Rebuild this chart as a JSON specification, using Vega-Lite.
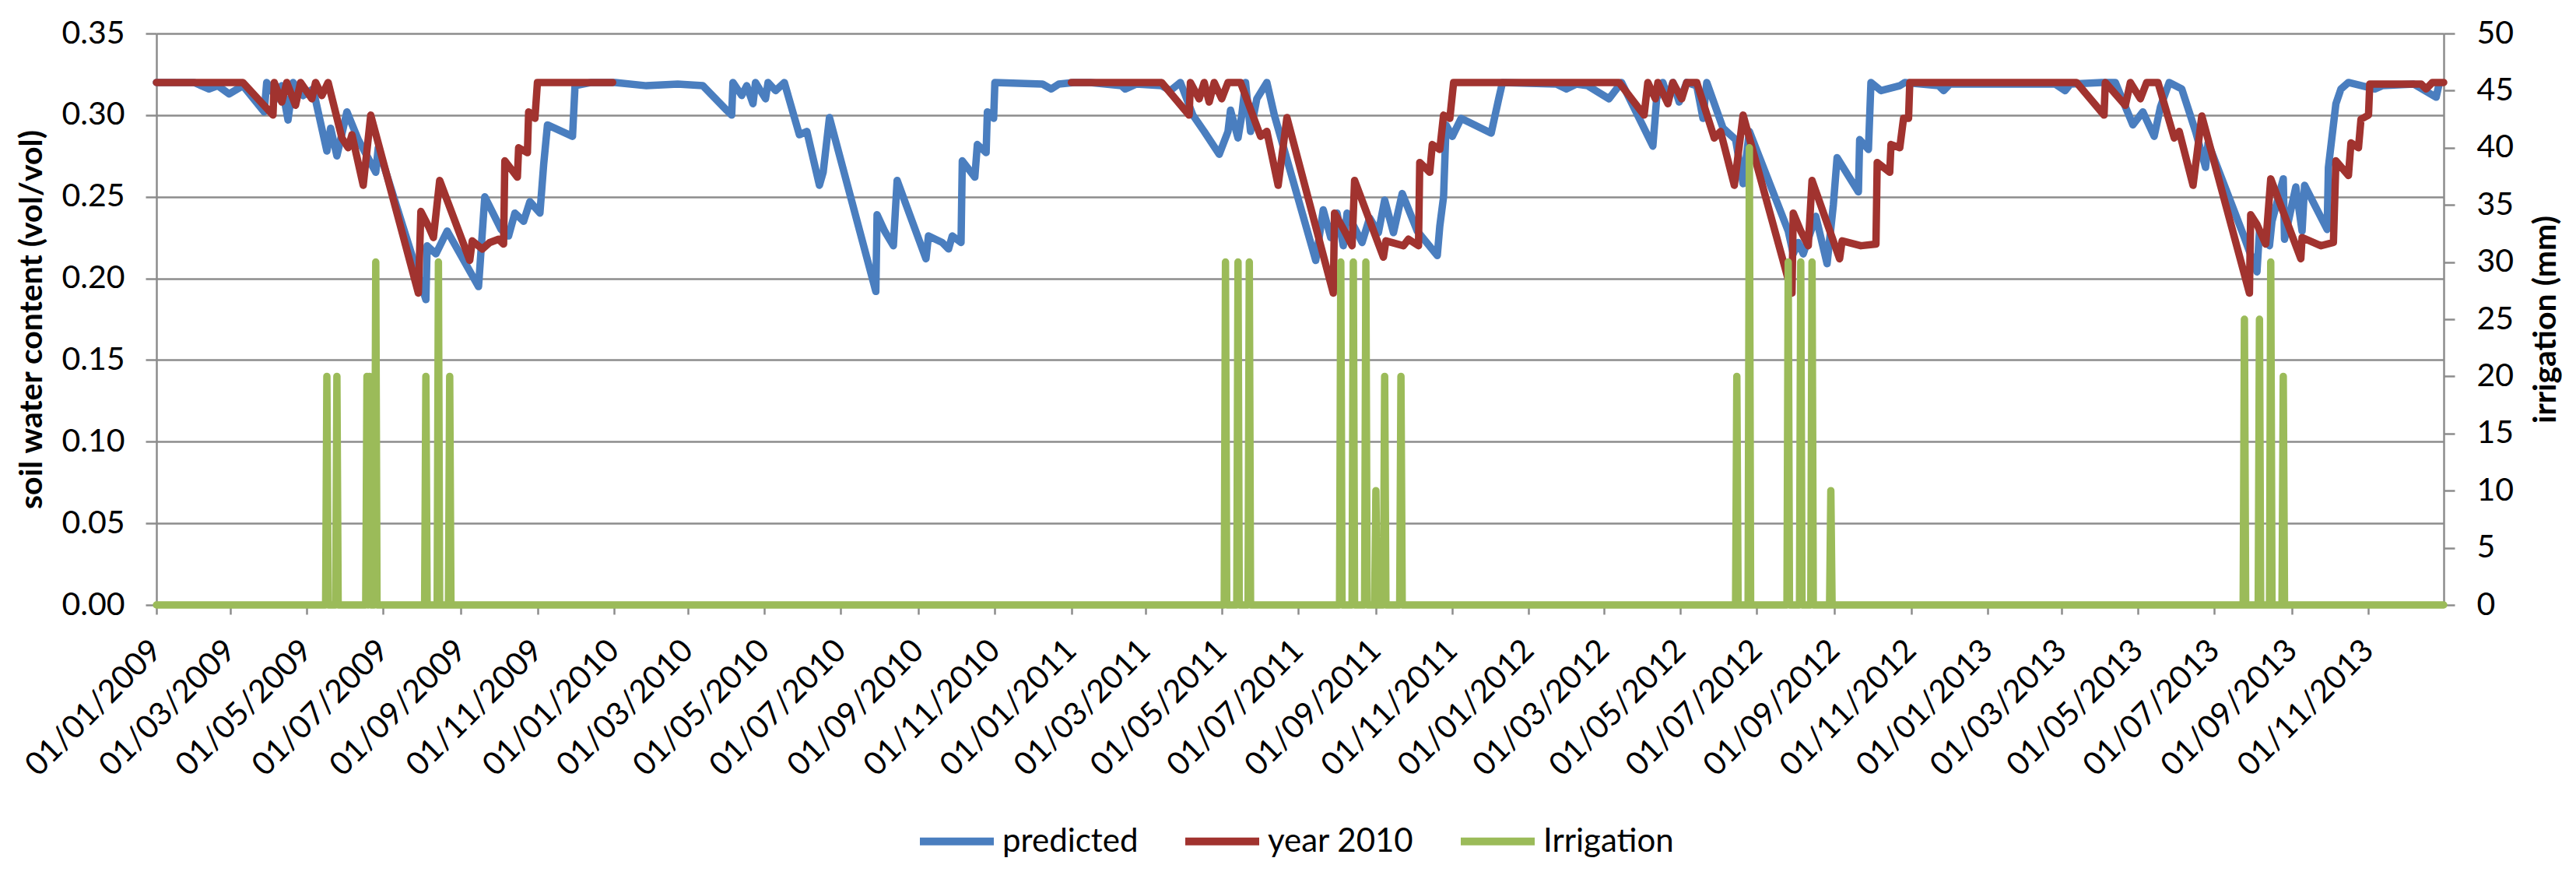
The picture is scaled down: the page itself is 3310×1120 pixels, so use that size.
{
  "$schema": "https://vega.github.io/schema/vega-lite/v6.json",
  "autosize": {"type": "none"},
  "padding": {"left": 201, "top": 43, "right": 170, "bottom": 343},
  "width": 2939,
  "height": 734,
  "background": "white",
  "config": {
    "font": "Lato",
    "view": {"stroke": null},
    "axis": {
      "labelFont": "Lato", "labelFontSize": 41, "labelColor": "#000000",
      "titleFont": "Lato", "titleFontSize": 41, "titleFontWeight": "bold", "titleColor": "#000000",
      "domainColor": "#8c8c8c", "domainWidth": 2.5,
      "tickColor": "#8c8c8c", "tickWidth": 2.5,
      "gridColor": "#8c8c8c", "gridWidth": 2.5
    }
  },
  "datasets": {
    "swc": [
      {"d":"2009-01-01","s":"predicted","v":0.320},
      {"d":"2009-01-31","s":"predicted","v":0.320},
      {"d":"2009-02-12","s":"predicted","v":0.316},
      {"d":"2009-02-19","s":"predicted","v":0.318},
      {"d":"2009-02-28","s":"predicted","v":0.313},
      {"d":"2009-03-11","s":"predicted","v":0.318},
      {"d":"2009-03-28","s":"predicted","v":0.302},
      {"d":"2009-03-30","s":"predicted","v":0.320},
      {"d":"2009-04-07","s":"predicted","v":0.310},
      {"d":"2009-04-11","s":"predicted","v":0.318},
      {"d":"2009-04-16","s":"predicted","v":0.297},
      {"d":"2009-04-20","s":"predicted","v":0.320},
      {"d":"2009-04-28","s":"predicted","v":0.312},
      {"d":"2009-05-06","s":"predicted","v":0.316},
      {"d":"2009-05-17","s":"predicted","v":0.278},
      {"d":"2009-05-20","s":"predicted","v":0.292},
      {"d":"2009-05-25","s":"predicted","v":0.275},
      {"d":"2009-06-02","s":"predicted","v":0.302},
      {"d":"2009-06-11","s":"predicted","v":0.285},
      {"d":"2009-06-25","s":"predicted","v":0.265},
      {"d":"2009-06-27","s":"predicted","v":0.280},
      {"d":"2009-08-04","s":"predicted","v":0.187},
      {"d":"2009-08-05","s":"predicted","v":0.220},
      {"d":"2009-08-12","s":"predicted","v":0.215},
      {"d":"2009-08-21","s":"predicted","v":0.229},
      {"d":"2009-09-15","s":"predicted","v":0.195},
      {"d":"2009-09-20","s":"predicted","v":0.250},
      {"d":"2009-10-03","s":"predicted","v":0.230},
      {"d":"2009-10-09","s":"predicted","v":0.226},
      {"d":"2009-10-14","s":"predicted","v":0.240},
      {"d":"2009-10-21","s":"predicted","v":0.235},
      {"d":"2009-10-26","s":"predicted","v":0.247},
      {"d":"2009-11-03","s":"predicted","v":0.240},
      {"d":"2009-11-06","s":"predicted","v":0.270},
      {"d":"2009-11-09","s":"predicted","v":0.294},
      {"d":"2009-11-29","s":"predicted","v":0.287},
      {"d":"2009-12-01","s":"predicted","v":0.318},
      {"d":"2009-12-14","s":"predicted","v":0.320},
      {"d":"2010-01-02","s":"predicted","v":0.320},
      {"d":"2010-01-27","s":"predicted","v":0.318},
      {"d":"2010-02-21","s":"predicted","v":0.319},
      {"d":"2010-03-13","s":"predicted","v":0.318},
      {"d":"2010-04-01","s":"predicted","v":0.303},
      {"d":"2010-04-05","s":"predicted","v":0.300},
      {"d":"2010-04-06","s":"predicted","v":0.320},
      {"d":"2010-04-13","s":"predicted","v":0.312},
      {"d":"2010-04-17","s":"predicted","v":0.318},
      {"d":"2010-04-22","s":"predicted","v":0.307},
      {"d":"2010-04-24","s":"predicted","v":0.320},
      {"d":"2010-05-02","s":"predicted","v":0.310},
      {"d":"2010-05-04","s":"predicted","v":0.320},
      {"d":"2010-05-10","s":"predicted","v":0.315},
      {"d":"2010-05-17","s":"predicted","v":0.320},
      {"d":"2010-05-29","s":"predicted","v":0.288},
      {"d":"2010-06-04","s":"predicted","v":0.290},
      {"d":"2010-06-14","s":"predicted","v":0.257},
      {"d":"2010-06-17","s":"predicted","v":0.265},
      {"d":"2010-06-22","s":"predicted","v":0.2985},
      {"d":"2010-07-29","s":"predicted","v":0.192},
      {"d":"2010-07-30","s":"predicted","v":0.239},
      {"d":"2010-08-05","s":"predicted","v":0.229},
      {"d":"2010-08-12","s":"predicted","v":0.220},
      {"d":"2010-08-15","s":"predicted","v":0.260},
      {"d":"2010-09-07","s":"predicted","v":0.212},
      {"d":"2010-09-09","s":"predicted","v":0.226},
      {"d":"2010-09-20","s":"predicted","v":0.222},
      {"d":"2010-09-25","s":"predicted","v":0.218},
      {"d":"2010-09-28","s":"predicted","v":0.226},
      {"d":"2010-10-05","s":"predicted","v":0.222},
      {"d":"2010-10-06","s":"predicted","v":0.272},
      {"d":"2010-10-16","s":"predicted","v":0.262},
      {"d":"2010-10-18","s":"predicted","v":0.282},
      {"d":"2010-10-25","s":"predicted","v":0.277},
      {"d":"2010-10-26","s":"predicted","v":0.302},
      {"d":"2010-10-31","s":"predicted","v":0.298},
      {"d":"2010-11-01","s":"predicted","v":0.320},
      {"d":"2010-12-09","s":"predicted","v":0.319},
      {"d":"2010-12-16","s":"predicted","v":0.316},
      {"d":"2010-12-22","s":"predicted","v":0.319},
      {"d":"2011-01-03","s":"predicted","v":0.320},
      {"d":"2011-01-16","s":"predicted","v":0.320},
      {"d":"2011-02-10","s":"predicted","v":0.318},
      {"d":"2011-02-13","s":"predicted","v":0.316},
      {"d":"2011-02-22","s":"predicted","v":0.319},
      {"d":"2011-03-14","s":"predicted","v":0.318},
      {"d":"2011-03-21","s":"predicted","v":0.315},
      {"d":"2011-03-29","s":"predicted","v":0.320},
      {"d":"2011-04-08","s":"predicted","v":0.300},
      {"d":"2011-04-17","s":"predicted","v":0.290},
      {"d":"2011-04-29","s":"predicted","v":0.276},
      {"d":"2011-05-06","s":"predicted","v":0.290},
      {"d":"2011-05-08","s":"predicted","v":0.303},
      {"d":"2011-05-14","s":"predicted","v":0.286},
      {"d":"2011-05-17","s":"predicted","v":0.300},
      {"d":"2011-05-20","s":"predicted","v":0.320},
      {"d":"2011-05-24","s":"predicted","v":0.290},
      {"d":"2011-05-29","s":"predicted","v":0.310},
      {"d":"2011-06-06","s":"predicted","v":0.320},
      {"d":"2011-06-12","s":"predicted","v":0.300},
      {"d":"2011-07-15","s":"predicted","v":0.211},
      {"d":"2011-07-21","s":"predicted","v":0.242},
      {"d":"2011-07-27","s":"predicted","v":0.225},
      {"d":"2011-08-01","s":"predicted","v":0.240},
      {"d":"2011-08-06","s":"predicted","v":0.220},
      {"d":"2011-08-09","s":"predicted","v":0.240},
      {"d":"2011-08-21","s":"predicted","v":0.222},
      {"d":"2011-08-27","s":"predicted","v":0.237},
      {"d":"2011-09-03","s":"predicted","v":0.228},
      {"d":"2011-09-08","s":"predicted","v":0.248},
      {"d":"2011-09-15","s":"predicted","v":0.228},
      {"d":"2011-09-22","s":"predicted","v":0.252},
      {"d":"2011-10-04","s":"predicted","v":0.229},
      {"d":"2011-10-20","s":"predicted","v":0.214},
      {"d":"2011-10-22","s":"predicted","v":0.232},
      {"d":"2011-10-25","s":"predicted","v":0.250},
      {"d":"2011-10-27","s":"predicted","v":0.294},
      {"d":"2011-11-01","s":"predicted","v":0.287},
      {"d":"2011-11-08","s":"predicted","v":0.298},
      {"d":"2011-12-02","s":"predicted","v":0.289},
      {"d":"2011-12-08","s":"predicted","v":0.310},
      {"d":"2011-12-11","s":"predicted","v":0.320},
      {"d":"2012-01-23","s":"predicted","v":0.319},
      {"d":"2012-01-31","s":"predicted","v":0.316},
      {"d":"2012-02-08","s":"predicted","v":0.319},
      {"d":"2012-02-17","s":"predicted","v":0.318},
      {"d":"2012-03-05","s":"predicted","v":0.310},
      {"d":"2012-03-15","s":"predicted","v":0.320},
      {"d":"2012-04-09","s":"predicted","v":0.281},
      {"d":"2012-04-12","s":"predicted","v":0.310},
      {"d":"2012-04-17","s":"predicted","v":0.320},
      {"d":"2012-04-21","s":"predicted","v":0.310},
      {"d":"2012-04-25","s":"predicted","v":0.320},
      {"d":"2012-04-30","s":"predicted","v":0.308},
      {"d":"2012-05-06","s":"predicted","v":0.320},
      {"d":"2012-05-14","s":"predicted","v":0.318},
      {"d":"2012-05-19","s":"predicted","v":0.298},
      {"d":"2012-05-22","s":"predicted","v":0.320},
      {"d":"2012-06-04","s":"predicted","v":0.292},
      {"d":"2012-06-14","s":"predicted","v":0.285},
      {"d":"2012-06-20","s":"predicted","v":0.258},
      {"d":"2012-06-25","s":"predicted","v":0.290},
      {"d":"2012-07-26","s":"predicted","v":0.229},
      {"d":"2012-07-30","s":"predicted","v":0.215},
      {"d":"2012-08-03","s":"predicted","v":0.222},
      {"d":"2012-08-07","s":"predicted","v":0.215},
      {"d":"2012-08-17","s":"predicted","v":0.238},
      {"d":"2012-08-26","s":"predicted","v":0.209},
      {"d":"2012-08-31","s":"predicted","v":0.245},
      {"d":"2012-09-03","s":"predicted","v":0.274},
      {"d":"2012-09-20","s":"predicted","v":0.253},
      {"d":"2012-09-21","s":"predicted","v":0.285},
      {"d":"2012-09-28","s":"predicted","v":0.279},
      {"d":"2012-09-30","s":"predicted","v":0.320},
      {"d":"2012-10-08","s":"predicted","v":0.315},
      {"d":"2012-10-23","s":"predicted","v":0.318},
      {"d":"2012-10-27","s":"predicted","v":0.320},
      {"d":"2012-11-23","s":"predicted","v":0.318},
      {"d":"2012-11-27","s":"predicted","v":0.315},
      {"d":"2012-12-02","s":"predicted","v":0.319},
      {"d":"2013-02-24","s":"predicted","v":0.319},
      {"d":"2013-03-04","s":"predicted","v":0.315},
      {"d":"2013-03-08","s":"predicted","v":0.319},
      {"d":"2013-04-02","s":"predicted","v":0.320},
      {"d":"2013-04-13","s":"predicted","v":0.320},
      {"d":"2013-04-27","s":"predicted","v":0.294},
      {"d":"2013-05-05","s":"predicted","v":0.302},
      {"d":"2013-05-14","s":"predicted","v":0.287},
      {"d":"2013-05-19","s":"predicted","v":0.305},
      {"d":"2013-05-26","s":"predicted","v":0.320},
      {"d":"2013-06-05","s":"predicted","v":0.316},
      {"d":"2013-06-16","s":"predicted","v":0.290},
      {"d":"2013-06-24","s":"predicted","v":0.268},
      {"d":"2013-06-26","s":"predicted","v":0.283},
      {"d":"2013-07-24","s":"predicted","v":0.227},
      {"d":"2013-08-04","s":"predicted","v":0.204},
      {"d":"2013-08-06","s":"predicted","v":0.229},
      {"d":"2013-08-14","s":"predicted","v":0.220},
      {"d":"2013-08-16","s":"predicted","v":0.235},
      {"d":"2013-08-25","s":"predicted","v":0.261},
      {"d":"2013-08-26","s":"predicted","v":0.224},
      {"d":"2013-09-04","s":"predicted","v":0.256},
      {"d":"2013-09-09","s":"predicted","v":0.229},
      {"d":"2013-09-11","s":"predicted","v":0.257},
      {"d":"2013-09-29","s":"predicted","v":0.230},
      {"d":"2013-09-30","s":"predicted","v":0.268},
      {"d":"2013-10-06","s":"predicted","v":0.307},
      {"d":"2013-10-10","s":"predicted","v":0.316},
      {"d":"2013-10-16","s":"predicted","v":0.320},
      {"d":"2013-11-06","s":"predicted","v":0.316},
      {"d":"2013-11-12","s":"predicted","v":0.318},
      {"d":"2013-12-07","s":"predicted","v":0.319},
      {"d":"2013-12-25","s":"predicted","v":0.311},
      {"d":"2013-12-27","s":"predicted","v":0.318},

      {"d":"2009-01-01","s":"year 2010","v":0.320},
      {"d":"2009-03-11","s":"year 2010","v":0.320},
      {"d":"2009-04-04","s":"year 2010","v":0.300},
      {"d":"2009-04-05","s":"year 2010","v":0.320},
      {"d":"2009-04-11","s":"year 2010","v":0.308},
      {"d":"2009-04-15","s":"year 2010","v":0.320},
      {"d":"2009-04-22","s":"year 2010","v":0.306},
      {"d":"2009-04-26","s":"year 2010","v":0.320},
      {"d":"2009-05-05","s":"year 2010","v":0.310},
      {"d":"2009-05-08","s":"year 2010","v":0.320},
      {"d":"2009-05-13","s":"year 2010","v":0.312},
      {"d":"2009-05-18","s":"year 2010","v":0.320},
      {"d":"2009-05-29","s":"year 2010","v":0.286},
      {"d":"2009-06-03","s":"year 2010","v":0.280},
      {"d":"2009-06-06","s":"year 2010","v":0.288},
      {"d":"2009-06-15","s":"year 2010","v":0.257},
      {"d":"2009-06-21","s":"year 2010","v":0.300},
      {"d":"2009-07-29","s":"year 2010","v":0.191},
      {"d":"2009-07-31","s":"year 2010","v":0.241},
      {"d":"2009-08-06","s":"year 2010","v":0.232},
      {"d":"2009-08-10","s":"year 2010","v":0.225},
      {"d":"2009-08-15","s":"year 2010","v":0.260},
      {"d":"2009-09-08","s":"year 2010","v":0.211},
      {"d":"2009-09-10","s":"year 2010","v":0.223},
      {"d":"2009-09-18","s":"year 2010","v":0.218},
      {"d":"2009-09-24","s":"year 2010","v":0.222},
      {"d":"2009-10-01","s":"year 2010","v":0.224},
      {"d":"2009-10-05","s":"year 2010","v":0.221},
      {"d":"2009-10-06","s":"year 2010","v":0.272},
      {"d":"2009-10-16","s":"year 2010","v":0.262},
      {"d":"2009-10-17","s":"year 2010","v":0.280},
      {"d":"2009-10-24","s":"year 2010","v":0.277},
      {"d":"2009-10-25","s":"year 2010","v":0.302},
      {"d":"2009-10-30","s":"year 2010","v":0.298},
      {"d":"2009-11-01","s":"year 2010","v":0.320},
      {"d":"2009-12-31","s":"year 2010","v":0.320},
      {"d":"2010-06-01","s":"year 2010","v":null},
      {"d":"2011-01-01","s":"year 2010","v":0.320},
      {"d":"2011-03-14","s":"year 2010","v":0.320},
      {"d":"2011-04-05","s":"year 2010","v":0.300},
      {"d":"2011-04-06","s":"year 2010","v":0.320},
      {"d":"2011-04-13","s":"year 2010","v":0.310},
      {"d":"2011-04-17","s":"year 2010","v":0.320},
      {"d":"2011-04-21","s":"year 2010","v":0.308},
      {"d":"2011-04-25","s":"year 2010","v":0.320},
      {"d":"2011-05-01","s":"year 2010","v":0.310},
      {"d":"2011-05-06","s":"year 2010","v":0.320},
      {"d":"2011-05-16","s":"year 2010","v":0.320},
      {"d":"2011-06-01","s":"year 2010","v":0.287},
      {"d":"2011-06-06","s":"year 2010","v":0.290},
      {"d":"2011-06-15","s":"year 2010","v":0.257},
      {"d":"2011-06-22","s":"year 2010","v":0.2985},
      {"d":"2011-07-29","s":"year 2010","v":0.191},
      {"d":"2011-07-30","s":"year 2010","v":0.240},
      {"d":"2011-08-07","s":"year 2010","v":0.229},
      {"d":"2011-08-13","s":"year 2010","v":0.220},
      {"d":"2011-08-15","s":"year 2010","v":0.260},
      {"d":"2011-09-07","s":"year 2010","v":0.213},
      {"d":"2011-09-09","s":"year 2010","v":0.223},
      {"d":"2011-09-23","s":"year 2010","v":0.220},
      {"d":"2011-09-27","s":"year 2010","v":0.224},
      {"d":"2011-10-05","s":"year 2010","v":0.220},
      {"d":"2011-10-06","s":"year 2010","v":0.271},
      {"d":"2011-10-14","s":"year 2010","v":0.265},
      {"d":"2011-10-16","s":"year 2010","v":0.282},
      {"d":"2011-10-22","s":"year 2010","v":0.279},
      {"d":"2011-10-25","s":"year 2010","v":0.300},
      {"d":"2011-10-30","s":"year 2010","v":0.298},
      {"d":"2011-11-02","s":"year 2010","v":0.320},
      {"d":"2012-03-13","s":"year 2010","v":0.320},
      {"d":"2012-04-02","s":"year 2010","v":0.300},
      {"d":"2012-04-05","s":"year 2010","v":0.320},
      {"d":"2012-04-11","s":"year 2010","v":0.310},
      {"d":"2012-04-13","s":"year 2010","v":0.320},
      {"d":"2012-04-21","s":"year 2010","v":0.307},
      {"d":"2012-04-25","s":"year 2010","v":0.320},
      {"d":"2012-05-02","s":"year 2010","v":0.310},
      {"d":"2012-05-06","s":"year 2010","v":0.320},
      {"d":"2012-05-14","s":"year 2010","v":0.320},
      {"d":"2012-05-28","s":"year 2010","v":0.286},
      {"d":"2012-06-02","s":"year 2010","v":0.290},
      {"d":"2012-06-13","s":"year 2010","v":0.257},
      {"d":"2012-06-20","s":"year 2010","v":0.300},
      {"d":"2012-07-29","s":"year 2010","v":0.191},
      {"d":"2012-07-30","s":"year 2010","v":0.240},
      {"d":"2012-08-05","s":"year 2010","v":0.229},
      {"d":"2012-08-11","s":"year 2010","v":0.220},
      {"d":"2012-08-14","s":"year 2010","v":0.260},
      {"d":"2012-09-05","s":"year 2010","v":0.212},
      {"d":"2012-09-07","s":"year 2010","v":0.223},
      {"d":"2012-09-22","s":"year 2010","v":0.220},
      {"d":"2012-10-04","s":"year 2010","v":0.221},
      {"d":"2012-10-05","s":"year 2010","v":0.271},
      {"d":"2012-10-15","s":"year 2010","v":0.265},
      {"d":"2012-10-16","s":"year 2010","v":0.282},
      {"d":"2012-10-23","s":"year 2010","v":0.280},
      {"d":"2012-10-26","s":"year 2010","v":0.298},
      {"d":"2012-10-30","s":"year 2010","v":0.298},
      {"d":"2012-10-31","s":"year 2010","v":0.320},
      {"d":"2013-03-13","s":"year 2010","v":0.320},
      {"d":"2013-04-04","s":"year 2010","v":0.300},
      {"d":"2013-04-05","s":"year 2010","v":0.320},
      {"d":"2013-04-21","s":"year 2010","v":0.306},
      {"d":"2013-04-25","s":"year 2010","v":0.320},
      {"d":"2013-05-03","s":"year 2010","v":0.310},
      {"d":"2013-05-08","s":"year 2010","v":0.320},
      {"d":"2013-05-17","s":"year 2010","v":0.320},
      {"d":"2013-05-30","s":"year 2010","v":0.286},
      {"d":"2013-06-03","s":"year 2010","v":0.290},
      {"d":"2013-06-14","s":"year 2010","v":0.257},
      {"d":"2013-06-21","s":"year 2010","v":0.2995},
      {"d":"2013-07-29","s":"year 2010","v":0.191},
      {"d":"2013-07-30","s":"year 2010","v":0.239},
      {"d":"2013-08-04","s":"year 2010","v":0.233},
      {"d":"2013-08-11","s":"year 2010","v":0.221},
      {"d":"2013-08-15","s":"year 2010","v":0.261},
      {"d":"2013-09-08","s":"year 2010","v":0.212},
      {"d":"2013-09-09","s":"year 2010","v":0.225},
      {"d":"2013-09-24","s":"year 2010","v":0.220},
      {"d":"2013-10-04","s":"year 2010","v":0.222},
      {"d":"2013-10-06","s":"year 2010","v":0.272},
      {"d":"2013-10-16","s":"year 2010","v":0.263},
      {"d":"2013-10-18","s":"year 2010","v":0.283},
      {"d":"2013-10-24","s":"year 2010","v":0.280},
      {"d":"2013-10-26","s":"year 2010","v":0.2975},
      {"d":"2013-11-01","s":"year 2010","v":0.300},
      {"d":"2013-11-02","s":"year 2010","v":0.319},
      {"d":"2013-12-13","s":"year 2010","v":0.319},
      {"d":"2013-12-17","s":"year 2010","v":0.316},
      {"d":"2013-12-22","s":"year 2010","v":0.320},
      {"d":"2013-12-31","s":"year 2010","v":0.320}
    ],
    "irr": [
      {"d":"2009-01-01","s":"Irrigation","mm":0},
      {"d":"2009-05-16","s":"Irrigation","mm":0},
      {"d":"2009-05-17","s":"Irrigation","mm":20},
      {"d":"2009-05-18","s":"Irrigation","mm":0},
      {"d":"2009-05-24","s":"Irrigation","mm":0},
      {"d":"2009-05-25","s":"Irrigation","mm":20},
      {"d":"2009-05-26","s":"Irrigation","mm":0},
      {"d":"2009-06-17","s":"Irrigation","mm":0},
      {"d":"2009-06-18","s":"Irrigation","mm":20},
      {"d":"2009-06-19","s":"Irrigation","mm":0},
      {"d":"2009-06-20","s":"Irrigation","mm":20},
      {"d":"2009-06-21","s":"Irrigation","mm":0},
      {"d":"2009-06-24","s":"Irrigation","mm":0},
      {"d":"2009-06-25","s":"Irrigation","mm":30},
      {"d":"2009-06-26","s":"Irrigation","mm":0},
      {"d":"2009-08-03","s":"Irrigation","mm":0},
      {"d":"2009-08-04","s":"Irrigation","mm":20},
      {"d":"2009-08-05","s":"Irrigation","mm":0},
      {"d":"2009-08-13","s":"Irrigation","mm":0},
      {"d":"2009-08-14","s":"Irrigation","mm":30},
      {"d":"2009-08-15","s":"Irrigation","mm":0},
      {"d":"2009-08-22","s":"Irrigation","mm":0},
      {"d":"2009-08-23","s":"Irrigation","mm":20},
      {"d":"2009-08-24","s":"Irrigation","mm":0},
      {"d":"2011-05-03","s":"Irrigation","mm":0},
      {"d":"2011-05-04","s":"Irrigation","mm":30},
      {"d":"2011-05-05","s":"Irrigation","mm":0},
      {"d":"2011-05-13","s":"Irrigation","mm":0},
      {"d":"2011-05-14","s":"Irrigation","mm":30},
      {"d":"2011-05-15","s":"Irrigation","mm":0},
      {"d":"2011-05-22","s":"Irrigation","mm":0},
      {"d":"2011-05-23","s":"Irrigation","mm":30},
      {"d":"2011-05-24","s":"Irrigation","mm":0},
      {"d":"2011-08-03","s":"Irrigation","mm":0},
      {"d":"2011-08-04","s":"Irrigation","mm":30},
      {"d":"2011-08-05","s":"Irrigation","mm":0},
      {"d":"2011-08-13","s":"Irrigation","mm":0},
      {"d":"2011-08-14","s":"Irrigation","mm":30},
      {"d":"2011-08-15","s":"Irrigation","mm":0},
      {"d":"2011-08-23","s":"Irrigation","mm":0},
      {"d":"2011-08-24","s":"Irrigation","mm":30},
      {"d":"2011-08-25","s":"Irrigation","mm":0},
      {"d":"2011-08-31","s":"Irrigation","mm":0},
      {"d":"2011-09-01","s":"Irrigation","mm":10},
      {"d":"2011-09-02","s":"Irrigation","mm":0},
      {"d":"2011-09-07","s":"Irrigation","mm":0},
      {"d":"2011-09-08","s":"Irrigation","mm":20},
      {"d":"2011-09-09","s":"Irrigation","mm":0},
      {"d":"2011-09-20","s":"Irrigation","mm":0},
      {"d":"2011-09-21","s":"Irrigation","mm":20},
      {"d":"2011-09-22","s":"Irrigation","mm":0},
      {"d":"2012-06-14","s":"Irrigation","mm":0},
      {"d":"2012-06-15","s":"Irrigation","mm":20},
      {"d":"2012-06-16","s":"Irrigation","mm":0},
      {"d":"2012-06-24","s":"Irrigation","mm":0},
      {"d":"2012-06-25","s":"Irrigation","mm":40},
      {"d":"2012-06-26","s":"Irrigation","mm":0},
      {"d":"2012-07-25","s":"Irrigation","mm":0},
      {"d":"2012-07-26","s":"Irrigation","mm":30},
      {"d":"2012-07-27","s":"Irrigation","mm":0},
      {"d":"2012-08-04","s":"Irrigation","mm":0},
      {"d":"2012-08-05","s":"Irrigation","mm":30},
      {"d":"2012-08-06","s":"Irrigation","mm":0},
      {"d":"2012-08-13","s":"Irrigation","mm":0},
      {"d":"2012-08-14","s":"Irrigation","mm":30},
      {"d":"2012-08-15","s":"Irrigation","mm":0},
      {"d":"2012-08-28","s":"Irrigation","mm":0},
      {"d":"2012-08-29","s":"Irrigation","mm":10},
      {"d":"2012-08-30","s":"Irrigation","mm":0},
      {"d":"2013-07-24","s":"Irrigation","mm":0},
      {"d":"2013-07-25","s":"Irrigation","mm":25},
      {"d":"2013-07-26","s":"Irrigation","mm":0},
      {"d":"2013-08-05","s":"Irrigation","mm":0},
      {"d":"2013-08-06","s":"Irrigation","mm":25},
      {"d":"2013-08-07","s":"Irrigation","mm":0},
      {"d":"2013-08-14","s":"Irrigation","mm":0},
      {"d":"2013-08-15","s":"Irrigation","mm":30},
      {"d":"2013-08-16","s":"Irrigation","mm":0},
      {"d":"2013-08-24","s":"Irrigation","mm":0},
      {"d":"2013-08-25","s":"Irrigation","mm":20},
      {"d":"2013-08-26","s":"Irrigation","mm":0},
      {"d":"2013-12-31","s":"Irrigation","mm":0}
    ]
  },
  "encoding": {
    "x": {
      "field": "d",
      "type": "temporal",
      "scale": {
        "type": "utc",
        "nice": false,
        "domain": [
          {"year": 2009, "month": 1, "date": 1, "utc": true},
          {"year": 2013, "month": 12, "date": 31, "utc": true}
        ]
      },
      "axis": {
        "title": null,
        "format": "%d/%m/%Y",
        "tickCount": {"interval": "month", "step": 2},
        "labelAngle": -45,
        "labelAlign": "right",
        "labelBaseline": "middle",
        "labelPadding": 40,
        "labelOverlap": false,
        "labelFlush": false,
        "labelBound": false,
        "labelLimit": 0,
        "tickSize": 12,
        "grid": false
      }
    },
    "color": {
      "field": "s",
      "type": "nominal",
      "scale": {
        "domain": ["predicted", "year 2010", "Irrigation"],
        "range": ["#4a7ebf", "#a1332f", "#9bbb59"]
      },
      "legend": {
        "title": null,
        "orient": "none",
        "legendX": 976,
        "legendY": 985,
        "direction": "horizontal",
        "symbolType": "stroke",
        "symbolSize": 9025,
        "symbolStrokeWidth": 10,
        "labelFont": "Lato",
        "labelFontSize": 42,
        "labelColor": "#000000",
        "labelOffset": 6,
        "labelLimit": 500,
        "columnPadding": 40
      }
    }
  },
  "layer": [
    {
      "data": {"name": "swc"},
      "mark": {"type": "line", "strokeWidth": 9.5, "strokeJoin": "round", "strokeCap": "round", "invalid": "break-paths-filter-domains"},
      "encoding": {
        "y": {
          "field": "v",
          "type": "quantitative",
          "scale": {"domain": [0, 0.35], "nice": false},
          "axis": {
            "title": "soil water content (vol/vol)",
            "values": [0, 0.05, 0.1, 0.15, 0.2, 0.25, 0.3, 0.35],
            "format": ".2f",
            "tickSize": 14,
            "labelPadding": 27,
            "titlePadding": 16,
            "grid": true
          }
        }
      }
    },
    {
      "data": {"name": "irr"},
      "mark": {"type": "line", "strokeWidth": 9.5, "strokeJoin": "round", "strokeCap": "round"},
      "encoding": {
        "y": {
          "field": "mm",
          "type": "quantitative",
          "scale": {"domain": [0, 50], "nice": false},
          "axis": {
            "orient": "right",
            "title": "irrigation (mm)",
            "titleAngle": 270,
            "titleBaseline": "top",
            "values": [0, 5, 10, 15, 20, 25, 30, 35, 40, 45, 50],
            "tickSize": 14,
            "labelPadding": 28,
            "titlePadding": 22,
            "grid": false
          }
        }
      }
    }
  ],
  "resolve": {"scale": {"y": "independent"}, "axis": {"y": "independent"}}
}
